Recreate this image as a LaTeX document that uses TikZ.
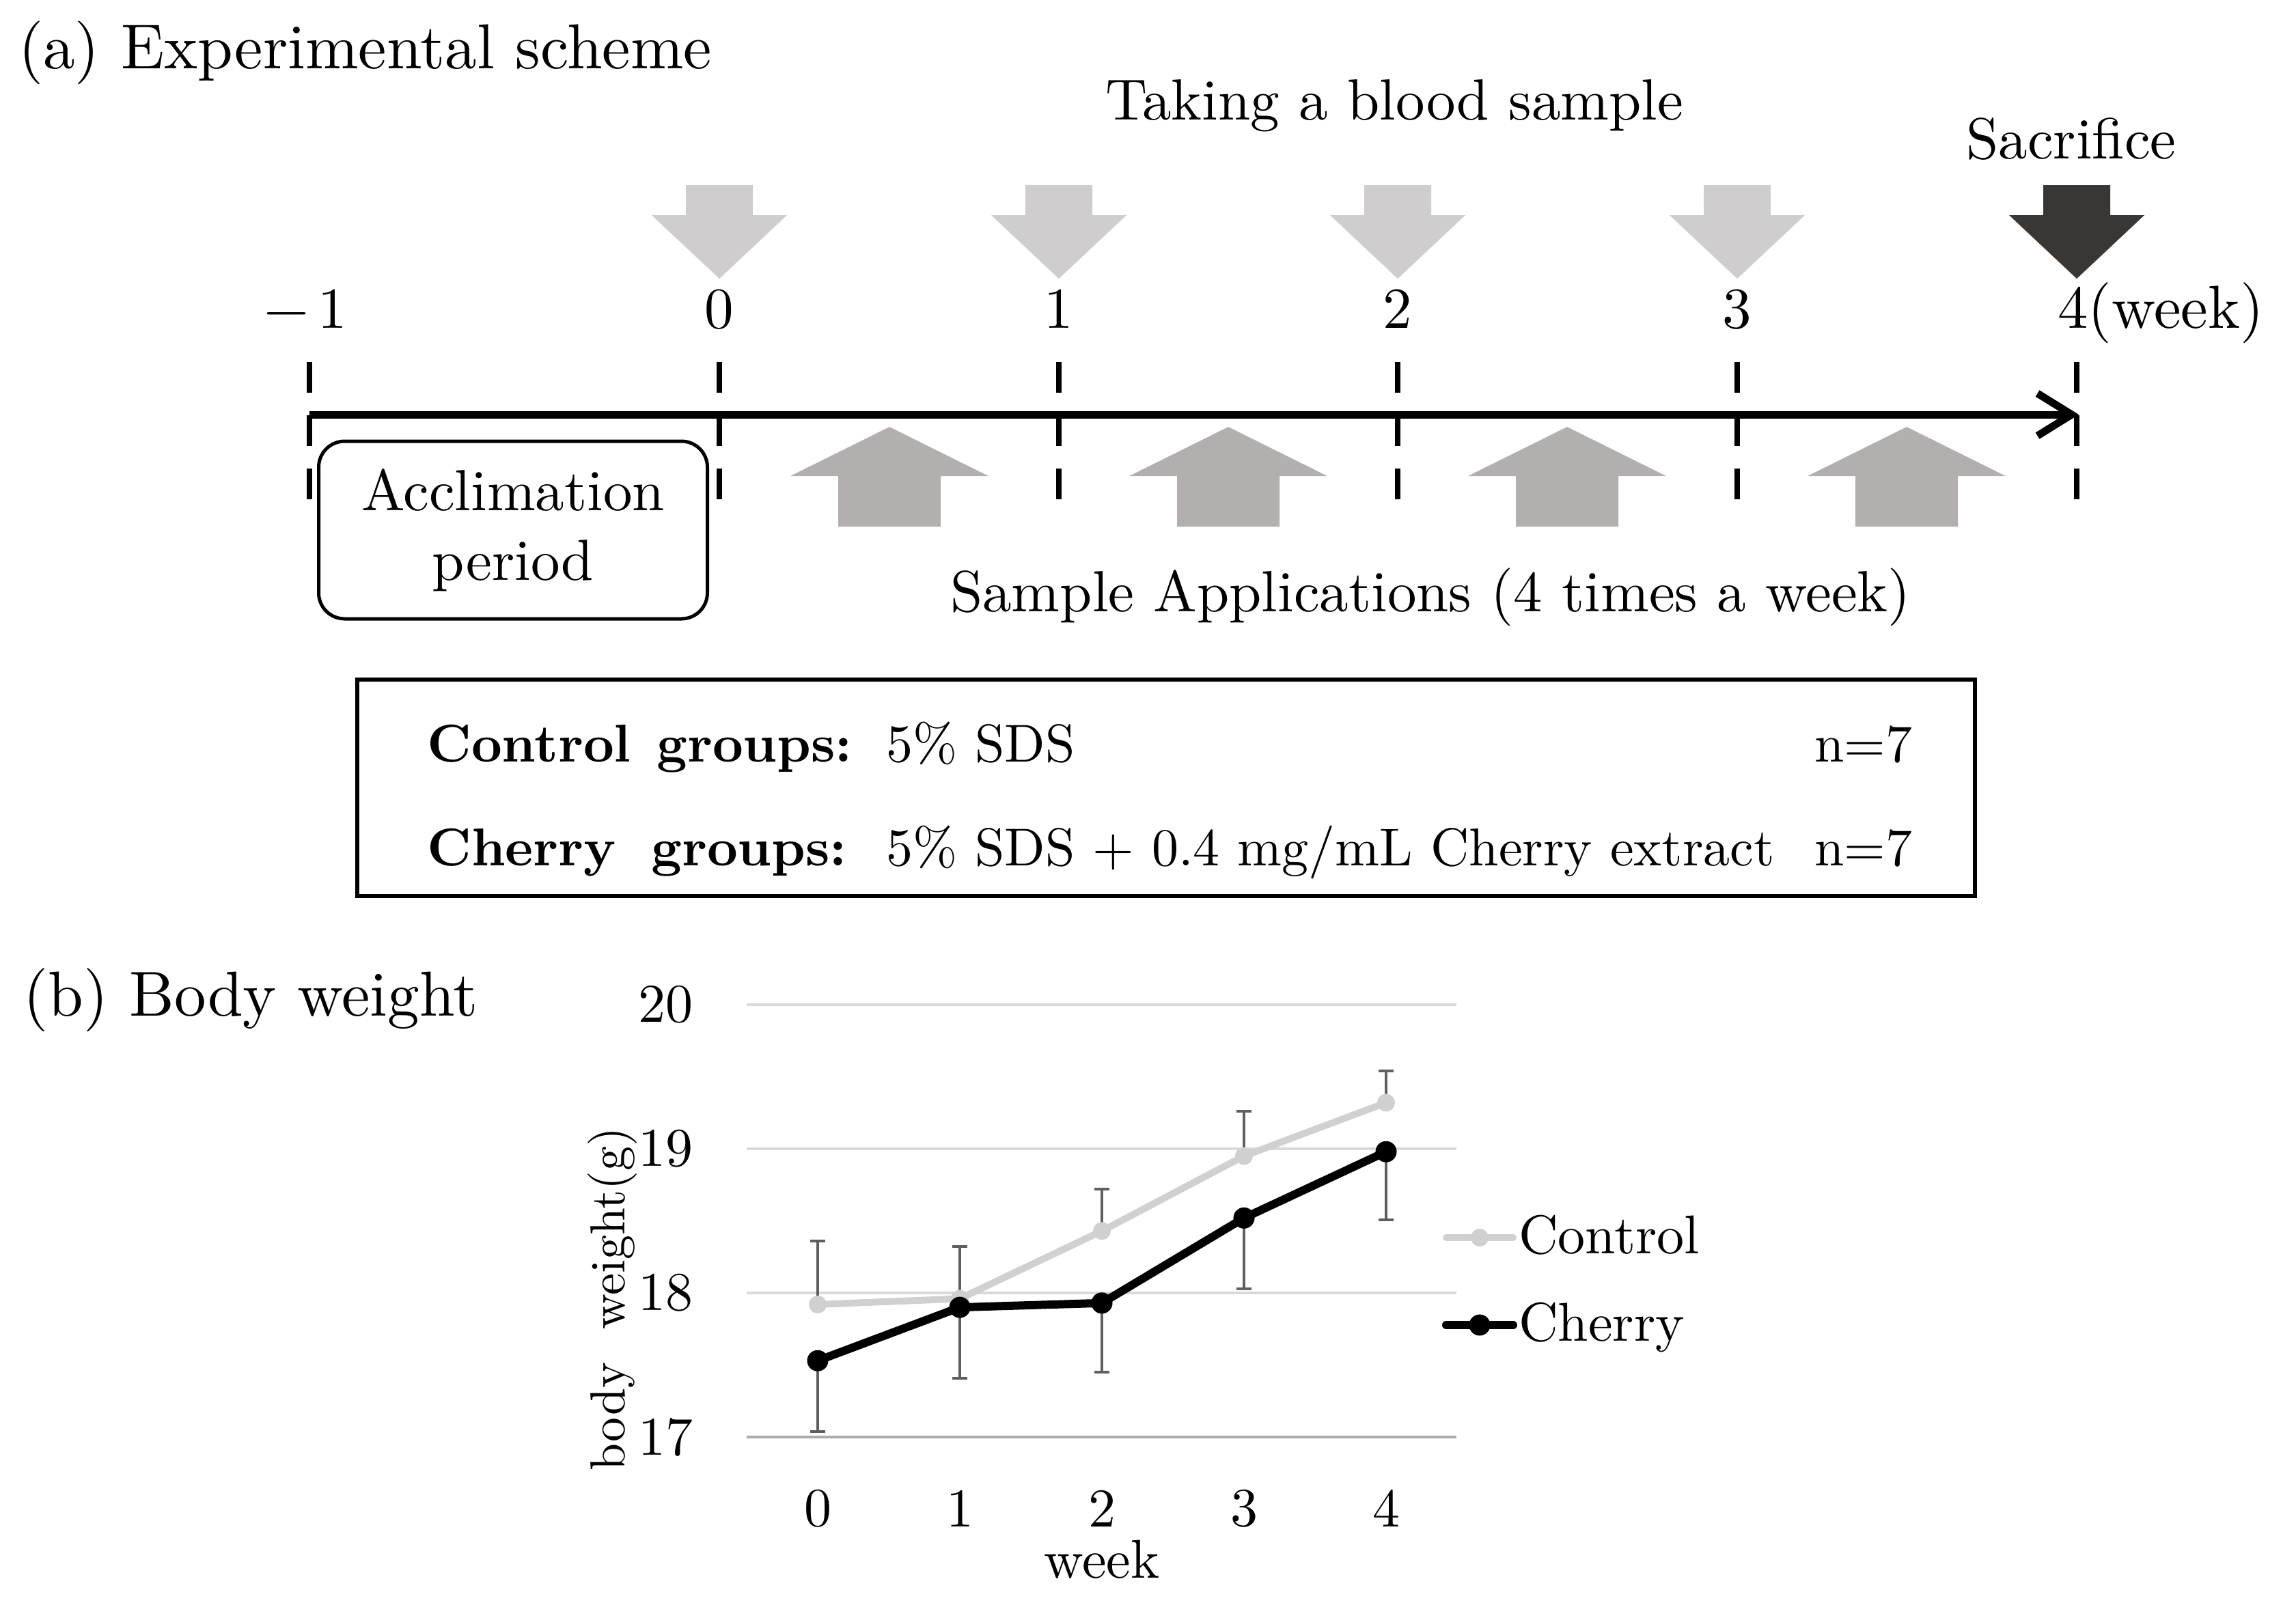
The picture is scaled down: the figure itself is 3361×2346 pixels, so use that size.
\documentclass[tikz,border=0pt]{standalone}
\usepackage{fontspec}
\setmainfont{lmroman10-regular.otf}[BoldFont=lmroman10-bold.otf]
\usetikzlibrary{arrows.meta}
\definecolor{bloodgray}{HTML}{CFCDCE}
\definecolor{sacgray}{HTML}{393634}
\definecolor{appgray}{HTML}{B3AFAE}
\definecolor{gridgray}{HTML}{D9D9D9}
\definecolor{basegray}{HTML}{ABABAB}
\definecolor{ctrlgray}{HTML}{D0D0D0}
\definecolor{errgray}{HTML}{5F5F5F}
\tikzset{
  txt/.style={font=\fontsize{85}{102}\selectfont, inner sep=0pt},
  ttl/.style={font=\fontsize{93}{110}\selectfont, inner sep=0pt, anchor=base west},
  grp/.style={font=\fontsize{78}{94}\selectfont, inner sep=0pt, anchor=base west},
  grpb/.style={font=\fontsize{78}{94}\selectfont\bfseries, inner sep=0pt, anchor=base west},
  chartlbl/.style={font=\fontsize{80}{96}\selectfont, inner sep=0pt},
  ylbl/.style={font=\fontsize{72}{86}\selectfont, inner sep=0pt, rotate=90},
  tickline/.style={line width=8pt, dash pattern=on 45pt off 33pt},
  timeaxis/.style={line width=11pt, -{Straight Barb[length=50pt,width=62pt]}},
  accbox/.style={draw, line width=5pt, rounded corners=38pt, minimum width=569pt,
    minimum height=260pt, align=center, inner sep=0pt, font=\fontsize{85}{102}\selectfont},
  grpbox/.style={draw, line width=6pt, minimum width=2368pt, minimum height=317pt, inner sep=0pt},
  gridln/.style={gridgray, line width=4pt},
  baseln/.style={basegray, line width=4pt},
  ebar/.style={errgray, line width=4pt, -{Bar[width=22pt]}},
  ctrlln/.style={ctrlgray, line width=10pt, line join=round},
  cherln/.style={black, line width=12pt, line join=round},
  cmark/.style={circle, fill=ctrlgray, inner sep=0pt, minimum size=26pt},
  hmark/.style={circle, fill=black, inner sep=0pt, minimum size=31pt},
  downarr/.pic={\fill[pic actions] (-49,0) -- (49,0) -- (49,44) -- (99,44) -- (0,137) -- (-99,44) -- (-49,44) -- cycle;},
  uparr/.pic={\fill[pic actions] (0,0) -- (145,72) -- (75,72) -- (75,146) -- (-75,146) -- (-75,72) -- (-145,72) -- cycle;}
}
\begin{document}
\begin{tikzpicture}[x=1pt,y=-1pt]
\useasboundingbox (0,0) rectangle (3361,2346);
\fill[white] (0,0) rectangle (3361,2346);

% ---------- (a) Experimental scheme ----------
\node[ttl] (ta) at (27,100) {(a) Experimental scheme};
\node[txt, anchor=base] (blood) at (2041,175) {Taking a blood sample};
\node[txt, anchor=base] (sac) at (3032,232) {Sacrifice};

% blood sampling arrows
\foreach \x in {1053,1550,2046,2543} \pic[fill=bloodgray] at (\x,271) {downarr};
\pic[fill=sacgray] at (3040,271) {downarr};

% week labels
\node[txt, anchor=base] (wm1) at (447,480) {−\kern0.15em 1};
\node[txt, anchor=base] (w0) at (1053,480) {0};
\node[txt, anchor=base] (w1) at (1550,480) {1};
\node[txt, anchor=base] (w2) at (2046,480) {2};
\node[txt, anchor=base] (w3) at (2543,480) {3};
\node[txt, anchor=base west, font=\fontsize{89}{106}\selectfont] (w4) at (3012,480) {4(week)};

% dashed week ticks
\foreach \n/\x in {m1/453,0/1053,1/1550,2/2046,3/2543,4/3040}{
  \coordinate (tt\n) at (\x,530);
  \coordinate (tb\n) at (\x,733);
  \draw[tickline] (tt\n) -- (tb\n);
}

% time axis
\coordinate (axs) at (453,607);
\coordinate (axe) at (3043,607);
\draw[timeaxis] (axs) -- (axe);

% application arrows
\foreach \x in {1302,1798,2294,2791} \pic[fill=appgray] at (\x,625) {uparr};

% acclimation box
\node[accbox] (acc) at (751,776) {Acclimation\\period};

\node[txt, anchor=base] (sapp) at (2094,895) {Sample Applications (4 times a week)};

% group box
\node[grpbox] (gbox) at (1707,1153.5) {};
\node[grpb] (cg1) at (625,1115) {Control};
\node[grpb] (cg2) at (961,1115) {groups:};
\node[grp] (cg3) at (1297,1115) {5\% SDS};
\node[grp] (cg4) at (2656,1115) {n=7};
\node[grpb] (hg1) at (625,1267) {Cherry};
\node[grpb] (hg2) at (953,1267) {groups:};
\node[grp] (hg3) at (1297,1267) {5\% SDS + 0.4 mg/mL Cherry extract};
\node[grp] (hg4) at (2656,1267) {n=7};

% ---------- (b) Body weight ----------
\node[ttl] (tb) at (34,1487) {(b) Body weight};

\node[ylbl] (ylab) at (896,1902) {body\ \ weight(g)};

\begin{scope}[shift={(1197pt,-5691pt)}, x=208pt, y=211pt]
  % grid
  \draw[gridln] (-0.5,20) -- (4.495,20);
  \draw[gridln] (-0.5,19) -- (4.495,19);
  \draw[gridln] (-0.5,18) -- (4.495,18);
  \draw[baseln] (-0.5,17) -- (4.495,17);
  % y tick labels
  \node[chartlbl, anchor=east] (y20) at (-0.875,20) {20};
  \node[chartlbl, anchor=east] (y19) at (-0.875,19) {19};
  \node[chartlbl, anchor=east] (y18) at (-0.875,18) {18};
  \node[chartlbl, anchor=east] (y17) at (-0.875,17) {17};
  % x tick labels
  \foreach \i in {0,...,4} \node[chartlbl] (xl\i) at (\i,16.505) {\i};
  \node[chartlbl, anchor=base] (xweek) at (2,16.02) {week};
  % data
  \coordinate (c0) at (0,17.92);
  \coordinate (c1) at (1,17.96);
  \coordinate (c2) at (2,18.43);
  \coordinate (c3) at (3,18.95);
  \coordinate (c4) at (4,19.32);
  \coordinate (h0) at (0,17.53);
  \coordinate (h1) at (1,17.90);
  \coordinate (h2) at (2,17.93);
  \coordinate (h3) at (3,18.52);
  \coordinate (h4) at (4,18.98);
  \coordinate (cu0) at (0,18.37);
  \coordinate (cu1) at (1,18.33);
  \coordinate (cu2) at (2,18.73);
  \coordinate (cu3) at (3,19.27);
  \coordinate (cu4) at (4,19.55);
  \coordinate (hl0) at (0,17.03);
  \coordinate (hl1) at (1,17.40);
  \coordinate (hl2) at (2,17.44);
  \coordinate (hl3) at (3,18.02);
  \coordinate (hl4) at (4,18.50);
  % error bars
  \foreach \i in {0,...,4}{
    \draw[ebar] (c\i) -- (cu\i);
    \draw[ebar] (h\i) -- (hl\i);
  }
  % control series
  \draw[ctrlln] (c0) -- (c1) -- (c2) -- (c3) -- (c4);
  \foreach \i in {0,...,4} \node[cmark] (cm\i) at (c\i) {};
  % cherry series
  \draw[cherln] (h0) -- (h1) -- (h2) -- (h3) -- (h4);
  \foreach \i in {0,...,4} \node[hmark] (hm\i) at (h\i) {};
\end{scope}

% legend
\coordinate (lcA) at (2117,1812);
\coordinate (lcB) at (2215,1812);
\draw[ctrlln, line cap=round] (lcA) -- (lcB);
\node[cmark] (lcm) at (2166,1812) {};
\node[chartlbl, anchor=base west] (lct) at (2223,1835) {Control};
\coordinate (lhA) at (2117,1940);
\coordinate (lhB) at (2215,1940);
\draw[cherln, line cap=round] (lhA) -- (lhB);
\node[hmark] (lhm) at (2166,1940) {};
\node[chartlbl, anchor=base west] (lht) at (2223,1963) {Cherry};
\end{tikzpicture}
\end{document}
